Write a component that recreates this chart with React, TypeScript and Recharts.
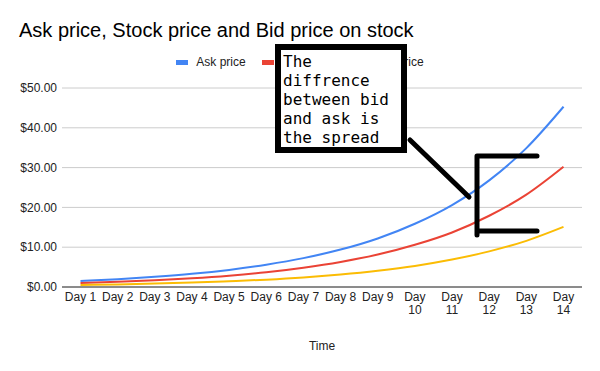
import * as React from 'react';
import { LineChart, Line, XAxis, YAxis, CartesianGrid } from 'recharts';

// Values
const DAYS = ['Day 1', 'Day 2', 'Day 3', 'Day 4', 'Day 5', 'Day 6', 'Day 7', 'Day 8', 'Day 9', 'Day 10', 'Day 11', 'Day 12', 'Day 13', 'Day 14'];
const ASK_PRICE = [1.5, 1.95, 2.55, 3.3, 4.3, 5.6, 7.25, 9.4, 12.2, 15.9, 20.6, 26.8, 34.9, 45.3];
const STOCK_PRICE = [1.0, 1.3, 1.7, 2.2, 2.85, 3.7, 4.85, 6.3, 8.15, 10.6, 13.7, 17.9, 23.2, 30.2];
const BID_PRICE = [0.5, 0.65, 0.85, 1.1, 1.45, 1.85, 2.4, 3.15, 4.1, 5.3, 6.9, 8.95, 11.6, 15.1];
const Y_TICKS = [0, 10, 20, 30, 40, 50];

const FONT = '"Liberation Sans", Arial, sans-serif';

const SERIES = [
  { key: 'ask', name: 'Ask price', color: '#4285F4' },
  { key: 'stock', name: 'Stock price', color: '#EA4335' },
  { key: 'bid', name: 'Bid price', color: '#FBBC04' },
];

const data = DAYS.map((day, i) => ({
  day,
  ask: ASK_PRICE[i],
  stock: STOCK_PRICE[i],
  bid: BID_PRICE[i],
}));

// Long labels wrap onto two lines like the original
function DayTick(props: any) {
  const { x, y, payload } = props;
  const label = String(payload.value);
  const lines = label.length > 5 ? label.split(' ') : [label];
  return (
    <text x={x} y={y} textAnchor="middle" fill="#222" fontSize={12} fontFamily={FONT}>
      {lines.map((l, i) => (
        <tspan key={i} x={x} dy={i === 0 ? 12 : 13}>
          {l}
        </tspan>
      ))}
    </text>
  );
}

function ChartLegend() {
  return (
    <div
      style={{
        position: 'absolute',
        left: 0,
        top: 55,
        width: 600,
        display: 'flex',
        justifyContent: 'center',
        fontFamily: FONT,
        fontSize: 12,
        lineHeight: '14px',
        color: '#222',
      }}
    >
      {SERIES.map((s) => (
        <div key={s.key} style={{ display: 'flex', alignItems: 'center', margin: '0 8px' }}>
          <span style={{ display: 'inline-block', width: 12, height: 5, background: s.color, marginRight: 8 }} />
          <span>{s.name}</span>
        </div>
      ))}
    </div>
  );
}

export default function App() {
  return (
    <div style={{ position: 'fixed', left: 0, top: 0, width: 600, height: 371, background: '#fff', overflow: 'hidden' }}>
      <div
        style={{
          position: 'absolute',
          left: 19,
          top: 19,
          fontFamily: FONT,
          fontSize: 20,
          lineHeight: '23px',
          color: '#000',
          whiteSpace: 'nowrap',
        }}
      >
        Ask price, Stock price and Bid price on stock
      </div>
      <ChartLegend />
      <LineChart width={600} height={371} data={data} margin={{ top: 88, right: 18, bottom: 44, left: 0 }}>
        <CartesianGrid vertical={false} stroke="#cccccc" />
        <XAxis
          dataKey="day"
          height={40}
          interval={0}
          padding={{ left: 18.5, right: 18.5 }}
          axisLine={{ stroke: '#333', strokeWidth: 1 }}
          tickLine={false}
          tickSize={0}
          tickMargin={2}
          tick={<DayTick />}
          label={{ value: 'Time', position: 'insideBottom', offset: -23, fill: '#222', fontSize: 12, fontFamily: FONT }}
        />
        <YAxis
          width={62}
          domain={[0, 50]}
          ticks={Y_TICKS}
          axisLine={false}
          tickLine={false}
          tickSize={0}
          tickMargin={5}
          tickFormatter={(v) => `$${Number(v).toFixed(2)}`}
          tick={{ fill: '#222', fontSize: 12, fontFamily: FONT }}
        />
        {SERIES.map((s) => (
          <Line
            key={s.key}
            type="monotone"
            dataKey={s.key}
            name={s.name}
            stroke={s.color}
            strokeWidth={2}
            dot={false}
            isAnimationActive={false}
          />
        ))}
      </LineChart>
      {/* hand-drawn annotation over the chart */}
      <div
        style={{
          position: 'absolute',
          left: 275,
          top: 44,
          width: 132,
          height: 109,
          boxSizing: 'border-box',
          border: '6px solid #000',
          background: '#fff',
          padding: '2px 0 0 2px',
          fontFamily: '"DejaVu Sans Mono", monospace',
          fontSize: 16,
          lineHeight: '19px',
          color: '#000',
          whiteSpace: 'pre',
        }}
      >
        {'The\ndiffrence\nbetween bid\nand ask is\nthe spread'}
      </div>
      <svg width={600} height={371} style={{ position: 'absolute', left: 0, top: 0, pointerEvents: 'none' }}>
        <path d="M410 140 L469 197" stroke="#000" strokeWidth={5} strokeLinecap="round" fill="none" />
        <path d="M537 156 H477 V235 M477 231 H537" stroke="#000" strokeWidth={5} strokeLinecap="round" strokeLinejoin="round" fill="none" />
      </svg>
    </div>
  );
}
